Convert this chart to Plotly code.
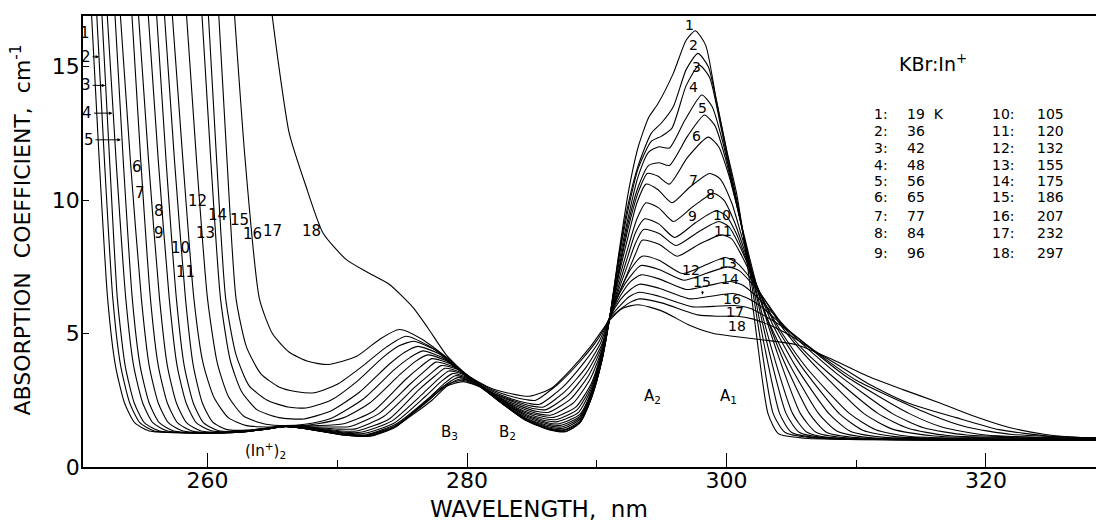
import plotly.graph_objects as go

# absorption spectra of KBr:In+ at 18 temperatures (wavelength nm, absorption coefficient cm^-1)
temps_k = [19, 36, 42, 48, 56, 65, 77, 84, 96, 105, 120, 132, 155, 175, 186, 207, 232, 297]

c01 = [(251.0,17.5),(251.65,11.5),(252.3,6.3),(252.9,3.8),(253.6,2.4),(254.4,1.65),(255.5,1.35),(258.0,1.28),(262.0,1.3),(264.5,1.42),(266.0,1.52),(268.0,1.4),(270.5,1.2),(272.5,1.15),(274.5,1.5),(276.5,2.3),(278.3,3.0),(279.7,3.2),(281.0,3.0),(282.5,2.45),(284.5,1.75),(286.3,1.4),(287.6,1.32),(288.7,1.65),(289.6,2.6),(290.4,4.0),(291.0,5.6),(291.7,8.0),(292.4,10.2),(293.2,12.0),(294.0,13.1),(294.7,13.6),(295.9,14.75),(296.9,16.0),(297.6,16.35),(298.4,15.8),(299.2,13.8),(300.0,11.9),(300.8,10.2),(301.5,8.0),(302.3,5.0),(303.2,2.0),(304.0,1.25),(306.0,1.08),(330.0,1.02)]
c02 = [(251.4,17.5),(252.05,11.5),(252.7,6.3),(253.3,3.8),(254.0,2.4),(254.8,1.65),(255.9,1.35),(258.5,1.28),(262.0,1.3),(264.5,1.42),(266.0,1.52),(268.0,1.4),(270.5,1.2),(272.5,1.16),(274.5,1.52),(276.5,2.33),(278.2,3.03),(279.6,3.25),(281.0,3.02),(282.5,2.46),(284.5,1.77),(286.3,1.41),(287.6,1.34),(288.7,1.66),(289.6,2.6),(290.4,4.0),(291.0,5.6),(291.7,7.9),(292.4,9.8),(293.2,11.3),(294.2,12.5),(295.0,12.9),(295.9,13.5),(296.9,14.9),(297.8,15.5),(298.6,15.0),(299.4,13.3),(300.2,11.4),(301.0,9.5),(301.7,7.6),(302.6,4.8),(303.6,2.0),(304.5,1.3),(306.5,1.1),(330.0,1.02)]
c03 = [(251.8,17.5),(252.45,11.5),(253.05,6.3),(253.65,3.8),(254.35,2.4),(255.15,1.65),(256.3,1.35),(259.0,1.28),(262.0,1.3),(264.5,1.42),(266.0,1.52),(268.0,1.4),(270.5,1.2),(272.4,1.17),(274.5,1.53),(277.3,2.5),(278.6,3.1),(279.5,3.3),(280.8,3.1),(282.5,2.46),(284.5,1.77),(286.4,1.42),(287.5,1.37),(288.7,1.68),(289.6,2.6),(290.4,4.0),(291.0,5.6),(291.7,7.8),(292.4,9.6),(293.2,11.2),(294.2,12.2),(295.0,12.4),(295.8,12.7),(296.9,14.3),(297.9,15.06),(298.7,14.6),(299.5,12.9),(300.3,11.0),(301.1,9.2),(301.9,7.2),(302.9,4.6),(304.1,2.0),(305.0,1.3),(307.0,1.1),(330.0,1.02)]
c04 = [(252.2,17.5),(252.95,11.5),(253.7,6.3),(254.3,3.8),(255.0,2.4),(255.8,1.65),(256.9,1.35),(259.5,1.28),(262.0,1.3),(264.5,1.42),(266.0,1.52),(268.1,1.4),(270.5,1.22),(272.3,1.19),(274.5,1.56),(277.1,2.52),(278.4,3.1),(279.3,3.35),(280.5,3.2),(282.5,2.46),(284.5,1.79),(286.4,1.45),(287.5,1.4),(288.7,1.72),(289.6,2.65),(290.4,4.0),(291.0,5.6),(291.7,7.6),(292.4,9.3),(293.2,10.9),(294.0,11.8),(294.8,12.0),(295.6,11.95),(296.8,13.0),(298.1,13.94),(298.9,13.5),(299.7,12.2),(300.5,10.5),(301.3,8.7),(302.1,6.9),(303.2,4.5),(304.6,2.0),(305.6,1.3),(307.5,1.1),(330.0,1.02)]
c05 = [(252.8,17.5),(253.5,11.5),(254.2,6.3),(254.8,3.8),(255.5,2.4),(256.3,1.65),(257.4,1.35),(260.0,1.28),(262.5,1.3),(264.5,1.42),(266.0,1.52),(268.2,1.4),(270.5,1.24),(272.2,1.21),(274.5,1.6),(277.0,2.56),(278.3,3.15),(279.1,3.42),(280.2,3.28),(280.8,3.12),(282.5,2.46),(284.5,1.81),(286.4,1.49),(287.4,1.45),(288.7,1.78),(289.6,2.7),(290.4,4.05),(291.0,5.6),(291.7,7.4),(292.4,9.1),(293.2,10.5),(294.0,11.3),(294.8,11.4),(295.6,11.3),(297.0,12.4),(298.3,13.19),(299.1,12.8),(299.9,11.6),(300.7,10.0),(301.5,8.3),(302.3,6.6),(303.5,4.4),(305.1,2.0),(306.2,1.3),(308.0,1.1),(330.0,1.02)]
c06 = [(253.2,17.5),(254.05,11.5),(254.9,6.3),(255.5,3.8),(256.2,2.4),(257.0,1.65),(258.1,1.35),(260.5,1.28),(262.5,1.3),(264.5,1.42),(266.0,1.52),(268.3,1.42),(270.5,1.27),(272.0,1.25),(274.4,1.65),(276.8,2.65),(278.0,3.2),(278.9,3.5),(280.0,3.35),(280.7,3.15),(282.5,2.47),(284.5,1.84),(286.4,1.54),(287.3,1.5),(288.7,1.84),(289.6,2.75),(290.4,4.1),(291.0,5.6),(291.7,7.3),(292.4,8.9),(293.2,10.3),(293.9,11.0),(294.7,10.9),(295.6,10.6),(297.0,11.6),(298.6,12.36),(299.4,12.0),(300.2,10.9),(301.0,9.4),(301.8,7.8),(302.6,6.3),(303.9,4.3),(305.7,2.0),(306.9,1.3),(309.0,1.1),(330.0,1.02)]
c07 = [(254.1,17.5),(254.85,11.5),(255.6,6.3),(256.2,3.8),(256.9,2.4),(257.7,1.65),(258.8,1.35),(261.0,1.28),(263.0,1.32),(264.5,1.42),(266.0,1.52),(268.5,1.43),(270.5,1.3),(271.8,1.3),(274.2,1.72),(276.6,2.75),(277.8,3.3),(278.6,3.6),(279.7,3.47),(280.6,3.18),(282.5,2.48),(284.5,1.88),(286.3,1.6),(287.2,1.56),(288.7,1.9),(289.6,2.8),(290.4,4.15),(291.0,5.6),(291.7,7.2),(292.4,8.6),(293.1,9.9),(293.8,10.6),(294.7,10.4),(295.8,9.9),(297.2,10.5),(298.7,11.0),(299.5,10.8),(300.4,9.9),(301.2,8.6),(302.0,7.3),(302.9,5.9),(304.3,4.1),(306.4,2.0),(307.7,1.3),(310.0,1.1),(330.0,1.02)]
c08 = [(254.6,17.5),(255.45,11.5),(256.3,6.3),(256.9,3.8),(257.6,2.4),(258.4,1.65),(259.5,1.35),(261.5,1.3),(263.0,1.33),(264.5,1.43),(266.0,1.52),(268.5,1.45),(270.3,1.35),(271.6,1.36),(274.0,1.8),(276.3,2.9),(277.5,3.4),(278.3,3.7),(279.5,3.55),(280.5,3.2),(282.5,2.5),(284.5,1.93),(286.2,1.66),(287.1,1.62),(288.7,1.97),(289.6,2.85),(290.4,4.2),(291.0,5.6),(291.7,7.0),(292.4,8.2),(293.1,9.3),(293.8,9.9),(294.8,9.7),(295.9,9.2),(297.4,9.75),(299.0,10.26),(299.8,10.0),(300.6,9.2),(301.4,8.1),(302.2,6.9),(303.1,5.6),(304.8,3.9),(307.1,2.0),(308.5,1.35),(311.0,1.1),(330.0,1.02)]
c09 = [(255.35,17.5),(256.2,11.5),(257.05,6.3),(257.65,3.8),(258.35,2.4),(259.15,1.65),(260.3,1.36),(262.0,1.32),(264.5,1.44),(266.0,1.53),(268.5,1.47),(270.0,1.42),(271.4,1.43),(273.6,1.9),(276.0,3.0),(277.2,3.5),(278.0,3.8),(279.3,3.65),(280.5,3.22),(282.5,2.52),(284.5,1.98),(286.1,1.73),(287.0,1.7),(288.6,2.05),(289.6,2.95),(290.4,4.25),(291.0,5.6),(291.7,6.8),(292.4,7.9),(293.0,8.8),(293.7,9.3),(294.8,9.1),(296.0,8.6),(297.6,9.15),(299.2,9.6),(300.0,9.4),(300.8,8.7),(301.6,7.7),(302.5,6.6),(303.5,5.4),(305.3,3.8),(307.9,2.0),(309.5,1.35),(312.0,1.12),(330.0,1.02)]
c10 = [(256.0,17.5),(256.8,11.5),(257.6,6.3),(258.2,3.8),(258.9,2.4),(259.7,1.65),(260.8,1.37),(262.5,1.34),(264.5,1.45),(266.0,1.54),(268.5,1.5),(270.0,1.5),(271.0,1.52),(273.2,2.0),(275.6,3.1),(276.8,3.62),(277.6,3.93),(279.0,3.75),(280.0,3.45),(280.5,3.25),(282.4,2.57),(284.4,2.05),(286.0,1.81),(286.9,1.78),(288.5,2.15),(289.6,3.05),(290.4,4.3),(291.0,5.6),(291.7,6.65),(292.4,7.6),(293.0,8.4),(293.6,8.9),(294.8,8.75),(296.1,8.3),(297.8,8.8),(299.4,9.2),(300.2,9.0),(301.0,8.3),(301.9,7.3),(302.8,6.3),(303.9,5.2),(305.8,3.75),(308.7,2.0),(310.5,1.38),(313.0,1.14),(330.0,1.03)]
c11 = [(256.6,17.5),(257.45,11.5),(258.3,6.3),(258.9,3.8),(259.6,2.4),(260.4,1.68),(261.5,1.4),(263.0,1.38),(264.5,1.46),(266.0,1.55),(268.5,1.55),(270.5,1.62),(272.8,2.1),(275.2,3.25),(276.4,3.75),(277.3,4.06),(278.7,3.87),(279.8,3.5),(280.4,3.27),(282.4,2.6),(284.3,2.12),(285.8,1.9),(286.7,1.86),(288.4,2.25),(289.6,3.15),(290.4,4.35),(291.0,5.6),(291.7,6.5),(292.4,7.3),(293.0,8.0),(293.5,8.5),(294.8,8.35),(296.2,7.9),(297.9,8.35),(299.6,8.7),(300.4,8.55),(301.2,7.9),(302.1,7.0),(303.1,6.0),(304.3,5.0),(306.2,3.7),(309.5,2.0),(311.5,1.4),(314.0,1.15),(330.0,1.03)]
c12 = [(257.2,17.5),(258.1,11.5),(258.95,6.3),(259.65,3.9),(260.5,2.6),(261.6,1.85),(263.0,1.55),(265.0,1.5),(266.5,1.52),(268.5,1.62),(270.5,1.85),(272.5,2.4),(274.8,3.45),(276.0,3.95),(277.0,4.2),(278.4,3.98),(279.6,3.55),(280.4,3.27),(282.3,2.62),(284.2,2.2),(285.6,1.98),(286.5,1.95),(288.2,2.4),(289.5,3.3),(290.4,4.4),(291.0,5.6),(291.8,6.6),(292.6,7.4),(293.5,7.9),(294.8,7.75),(296.6,7.25),(298.3,7.55),(299.9,7.85),(300.8,7.65),(301.8,7.1),(302.9,6.3),(304.2,5.3),(305.5,4.5),(307.2,3.6),(310.6,2.0),(312.8,1.42),(316.0,1.16),(330.0,1.04)]
c13 = [(258.3,17.5),(259.15,11.5),(260.0,6.3),(260.75,3.9),(261.6,2.65),(262.8,1.9),(264.5,1.6),(266.0,1.55),(267.5,1.6),(269.5,1.82),(272.0,2.55),(274.4,3.65),(275.6,4.1),(276.6,4.35),(278.1,4.1),(279.5,3.6),(280.4,3.28),(282.2,2.67),(284.0,2.3),(285.4,2.08),(286.3,2.05),(288.0,2.55),(289.4,3.45),(290.4,4.5),(291.0,5.6),(291.8,6.55),(292.6,7.15),(293.4,7.55),(294.8,7.4),(296.7,7.0),(298.4,7.25),(300.1,7.5),(301.0,7.35),(302.0,6.85),(303.2,6.1),(304.5,5.2),(306.0,4.35),(307.8,3.55),(311.7,2.0),(314.0,1.45),(317.0,1.18),(330.0,1.05)]
c14 = [(259.5,17.5),(260.25,11.5),(261.0,6.3),(261.75,4.0),(262.6,2.85),(263.8,2.15),(265.5,1.85),(267.4,1.8),(269.5,2.1),(271.7,2.8),(274.0,3.85),(275.2,4.3),(276.2,4.52),(277.8,4.25),(279.3,3.7),(280.4,3.28),(282.0,2.75),(283.8,2.4),(285.2,2.18),(286.1,2.15),(287.8,2.7),(289.3,3.6),(290.4,4.6),(291.0,5.6),(291.8,6.4),(292.6,6.95),(293.4,7.2),(294.8,7.05),(296.9,6.65),(298.6,6.8),(300.3,6.95),(301.3,6.8),(302.4,6.35),(303.6,5.75),(305.0,5.0),(306.8,4.2),(308.5,3.5),(312.8,2.0),(315.2,1.47),(318.5,1.2),(330.0,1.05)]
c15 = [(260.0,17.5),(260.7,11.5),(261.4,6.3),(262.2,4.2),(263.2,3.05),(264.6,2.5),(266.2,2.25),(267.6,2.21),(269.5,2.5),(271.5,3.2),(273.5,4.1),(274.8,4.55),(275.9,4.71),(277.5,4.4),(279.0,3.8),(280.3,3.3),(282.0,2.78),(283.6,2.48),(285.0,2.28),(285.9,2.25),(287.6,2.85),(289.2,3.75),(290.3,4.65),(291.0,5.6),(291.8,6.25),(292.6,6.65),(293.3,6.85),(294.8,6.7),(297.2,6.3),(298.8,6.4),(300.5,6.5),(301.5,6.35),(302.7,6.0),(304.0,5.45),(305.6,4.8),(307.2,4.15),(309.2,3.4),(314.1,2.0),(316.6,1.5),(320.0,1.2),(330.0,1.06)]
c16 = [(260.8,17.5),(261.5,11.5),(262.2,6.3),(263.0,4.5),(264.1,3.5),(265.5,3.0),(266.9,2.82),(268.2,2.78),(270.0,3.1),(272.0,3.8),(273.8,4.5),(275.3,4.9),(277.0,4.55),(278.5,4.05),(280.2,3.35),(281.8,2.88),(283.4,2.56),(284.8,2.38),(285.6,2.35),(287.4,3.0),(289.0,3.9),(290.2,4.72),(291.0,5.6),(291.8,6.05),(292.5,6.38),(293.3,6.55),(294.8,6.4),(297.4,6.0),(299.0,6.02),(300.6,6.05),(301.8,5.95),(303.0,5.65),(304.5,5.2),(306.0,4.65),(307.6,4.05),(310.0,3.25),(315.8,1.95),(318.5,1.5),(322.0,1.22),(330.0,1.07)]
c17 = [(262.0,17.5),(262.9,11.5),(264.0,6.3),(265.0,5.0),(266.3,4.3),(267.8,3.95),(269.3,3.84),(271.5,4.15),(273.3,4.8),(274.8,5.15),(276.5,4.8),(278.4,4.12),(280.2,3.38),(281.8,2.92),(283.3,2.66),(284.6,2.52),(285.3,2.5),(287.0,3.1),(288.8,4.0),(290.1,4.8),(291.0,5.55),(291.8,5.9),(292.5,6.15),(293.3,6.3),(295.0,6.15),(297.8,5.7),(299.3,5.65),(300.8,5.65),(302.0,5.55),(303.4,5.3),(305.0,4.9),(306.8,4.35),(308.5,3.85),(311.0,3.1),(314.0,2.4),(317.7,1.85),(321.0,1.4),(325.0,1.15),(330.0,1.08)]
c18 = [(264.83,17.5),(265.5,15.0),(266.3,12.5),(267.6,10.5),(268.9,8.77),(270.7,7.77),(272.5,7.25),(274.0,6.85),(275.8,6.0),(277.0,5.2),(278.4,4.2),(280.0,3.45),(282.0,2.92),(284.8,2.65),(286.5,2.95),(288.0,3.65),(289.5,4.5),(291.0,5.5),(292.0,5.95),(293.2,6.08),(295.0,5.85),(297.2,5.3),(299.0,5.0),(300.8,4.88),(302.7,4.77),(305.4,4.58),(308.2,4.02),(310.9,3.4),(313.6,2.9),(316.4,2.41),(319.1,1.9),(321.8,1.48),(324.6,1.22),(327.3,1.1),(330.0,1.07)]

curves = [c01, c02, c03, c04, c05, c06, c07, c08, c09, c10, c11, c12, c13, c14, c15, c16, c17, c18]

# curve numbers written next to the short-wavelength edge (x nm, y)
left_labels = [("1", 250.56, 16.25), ("6", 254.6, 11.26), ("7", 254.8, 10.28), ("8", 256.22, 9.61),
               ("9", 256.27, 8.76), ("10", 257.95, 8.2), ("11", 258.28, 7.29), ("12", 259.23, 9.95),
               ("13", 259.82, 8.76), ("14", 260.77, 9.45), ("15", 262.45, 9.24), ("16", 263.43, 8.74),
               ("17", 264.97, 8.83), ("18", 267.98, 8.83)]
# labels with arrows: text, arrow tip x, y, offset of text in px
arrow_labels = [("2", 251.64, 15.37, -13), ("3", 252.11, 14.3, -19), ("4", 252.67, 13.26, -25), ("5", 253.32, 12.26, -32)]
# curve numbers near the A band
right_labels = [("1", 297.17, 16.56), ("2", 297.48, 15.81), ("3", 297.68, 15.0), ("4", 297.48, 14.23),
                ("5", 298.15, 13.44), ("6", 297.68, 12.41), ("7", 297.48, 10.76), ("8", 298.77, 10.24),
                ("9", 297.38, 9.39), ("10", 299.66, 9.45), ("11", 299.74, 8.86), ("12", 297.27, 7.39),
                ("13", 300.13, 7.66), ("14", 300.27, 7.06), ("16", 300.41, 6.3), ("17", 300.68, 5.82),
                ("18", 300.82, 5.3)]
band_labels = [("A<sub>2</sub>", 294.27, 2.65), ("A<sub>1</sub>", 300.13, 2.65), ("B<sub>3</sub>", 278.65, 1.28),
               ("B<sub>2</sub>", 283.15, 1.28), ("(In<sup>+</sup>)<sub>2</sub>", 264.5, 0.6)]

# temperature key
key_rows_y = [13.24, 12.6, 11.97, 11.33, 10.72, 10.1, 9.42, 8.76, 8.02]

FONT = "DejaVu Sans"
fig = go.Figure()

for c in curves:
    xs = [p[0] for p in c]
    ys = [p[1] for p in c]
    fig.add_trace(go.Scatter(x=xs, y=ys, mode="lines",
                             line=dict(color="black", width=1.1, shape="spline", smoothing=0.6),
                             hoverinfo="skip", showlegend=False))

ann = []
for t, x, y in left_labels:
    ann.append(dict(x=x, y=y, text=t, showarrow=False, font=dict(size=15)))
for t, x, y in right_labels:
    ann.append(dict(x=x, y=y, text=t, showarrow=False, font=dict(size=14)))
for t, x, y, dx in arrow_labels:
    ann.append(dict(x=x, y=y, text=t, showarrow=True, ax=dx, ay=0, arrowhead=2, arrowsize=0.7,
                    arrowwidth=1, arrowcolor="black", font=dict(size=15)))
ann.append(dict(x=298.15, y=6.45, text="15", showarrow=True, ax=0, ay=-13, arrowhead=2, arrowsize=0.6,
                arrowwidth=1, arrowcolor="black", font=dict(size=14)))
for t, x, y in band_labels:
    ann.append(dict(x=x, y=y, text=t, showarrow=False, font=dict(size=15)))

ann.append(dict(x=315.9, y=15.13, text="KBr:In<sup>+</sup>", showarrow=False, font=dict(size=19)))
for i, t in enumerate(temps_k):
    col, row = divmod(i, 9)
    y = key_rows_y[row]
    xl, xv = (312.6, 313.75) if col == 0 else (322.4, 323.8)
    val = f"{t}  K" if i == 0 else str(t)
    ann.append(dict(x=xl, y=y, text=f"{i + 1}:", xanchor="right", showarrow=False, font=dict(size=14)))
    ann.append(dict(x=xv, y=y, text=val, xanchor="left", showarrow=False, font=dict(size=14)))

ann.append(dict(xref="paper", yref="paper", x=0.447, y=-0.094, text="WAVELENGTH,  nm",
                showarrow=False, font=dict(size=23), yanchor="middle"))
ann.append(dict(xref="paper", yref="paper", x=-0.061, y=0.526, text="ABSORPTION  COEFFICIENT,  cm<sup>-1</sup>",
                showarrow=False, font=dict(size=22), textangle=-90, xanchor="center", yanchor="middle"))

# the page body keeps an 8 px margin, so the figure is drawn 8 px smaller
fig.update_layout(
    width=1096, height=515,
    margin=dict(l=75, r=0, t=8, b=55.5),
    paper_bgcolor="white", plot_bgcolor="white",
    font=dict(family=FONT, color="black"),
    annotations=ann,
    xaxis=dict(range=[250.4, 329.1], showgrid=False, zeroline=False, showline=True, linecolor="black",
               linewidth=2, mirror=True, ticks="inside", ticklen=14, tickwidth=1.2, tickcolor="black",
               tickvals=[260, 280, 300, 320], tickfont=dict(size=22), ticklabelstandoff=-7,
               minor=dict(tickvals=[270, 290, 310], ticks="inside", ticklen=7, tickwidth=1.2, tickcolor="black")),
    yaxis=dict(range=[0, 16.9], showgrid=False, zeroline=False, showline=True, linecolor="black",
               linewidth=1.6, ticks="inside", ticklen=6, tickwidth=1.2, tickcolor="black",
               tickvals=[0, 5, 10, 15], tickfont=dict(size=22), ticklabelstandoff=-3),
)

fig.write_html("out.html")
